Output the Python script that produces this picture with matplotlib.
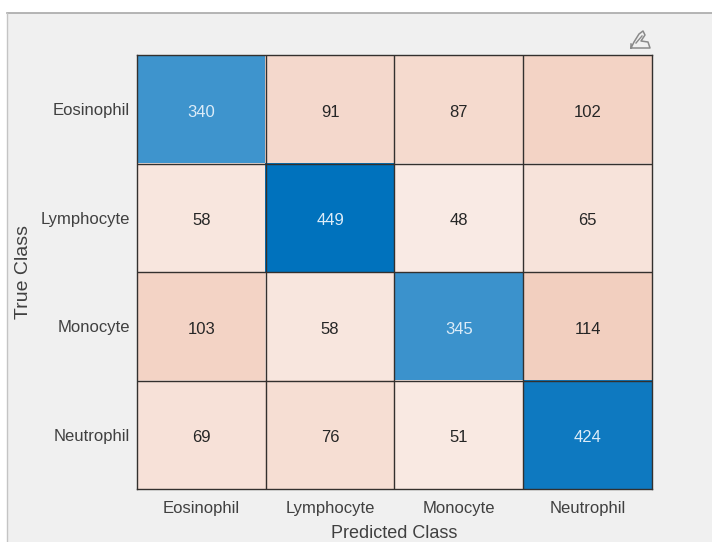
import matplotlib
matplotlib.use('Agg')
import matplotlib.pyplot as plt
import numpy as np
from matplotlib.colors import LinearSegmentedColormap, Normalize
from matplotlib.lines import Line2D
from matplotlib.patches import Rectangle
from matplotlib.transforms import ScaledTranslation

plt.rcParams['font.family'] = ['Liberation Sans', 'DejaVu Sans']

classes = ['Eosinophil', 'Lymphocyte', 'Monocyte', 'Neutrophil']
row_0 = [340, 91, 87, 102]
row_1 = [58, 449, 48, 65]
row_2 = [103, 58, 345, 114]
row_3 = [69, 76, 51, 424]

BG = '#f0f0f0'
TEXT = '#404040'
W, H = 712, 542

counts = np.array([row_0, row_1, row_2, row_3])
norm = Normalize(0, counts.max())
# MATLAB confusionchart style: blue on the diagonal, orange off it
diag_cmap = LinearSegmentedColormap.from_list('diag', ['#ffffff', '#0072bd'])
off_cmap = LinearSegmentedColormap.from_list('off', ['#ffffff', '#cc4000'])

rgb = off_cmap(norm(counts))
rgb[np.eye(4, dtype=bool)] = diag_cmap(norm(np.diag(counts)))

fig = plt.figure(figsize=(W / 100, H / 100), dpi=100, facecolor='white')

# window background and its top/left edge
fig.patches.append(Rectangle((7 / W, 0), 1 - 7 / W, 1 - 13 / H, transform=fig.transFigure,
                             facecolor=BG, edgecolor='none', zorder=-2))
fig.add_artist(Line2D([7 / W, 1], [1 - 13 / H, 1 - 13 / H], color='#a8a8a8', lw=1.2))
fig.add_artist(Line2D([7 / W, 7 / W], [0, 1 - 13 / H], color='#c4c4c4', lw=1.0))

ax = fig.add_axes([137 / W, 1 - 489 / H, (652 - 137) / W, (489 - 55) / H])
ax.imshow(rgb, aspect='auto', interpolation='nearest')

# counts sit a few pixels below the cell centre in the reference
shift = ax.transData + ScaledTranslation(0, -3 / 100, fig.dpi_scale_trans)
for i in range(4):
    for j in range(4):
        ax.text(j, i, str(counts[i, j]), ha='center', va='center', fontsize=12, transform=shift,
                color='#dcecf8' if i == j else '#262626')

ax.set_xticks(np.arange(4), classes)
ax.set_yticks(np.arange(4), classes)
ax.set_xticks(np.arange(0.5, 3.5), minor=True)
ax.set_yticks(np.arange(0.5, 3.5), minor=True)
ax.grid(which='minor', color='#33302e', lw=1.0)
ax.tick_params(which='both', length=0)
ax.tick_params(axis='x', labelsize=12, labelcolor=TEXT, pad=9)
ax.tick_params(axis='y', labelsize=12, labelcolor=TEXT, pad=5)
for s in ax.spines.values():
    s.set_color('#33302e')
    s.set_linewidth(1.0)

fig.text(394 / W, 1 - 533 / H, 'Predicted Class', ha='center', va='center', fontsize=13, color=TEXT)
fig.text(24 / W, 1 - 272 / H, 'True Class', ha='center', va='center', rotation=90, fontsize=14, color=TEXT)

# little brush icon from the MATLAB toolbar
icon_x = [631, 634, 639, 643, 645, 641, 648, 650, 631, 631]
icon_y = [48, 42, 34, 31, 35, 41, 42, 48, 48, 44]
fig.add_artist(Line2D([x / W for x in icon_x], [1 - y / H for y in icon_y],
                      color='#8a8a8a', lw=1.1))
fig.add_artist(Line2D([636 / W, 642 / W], [1 - 43 / H, 1 - 36 / H], color='#8a8a8a', lw=1.0))

fig.savefig('out.png', dpi=100, facecolor=fig.get_facecolor())
